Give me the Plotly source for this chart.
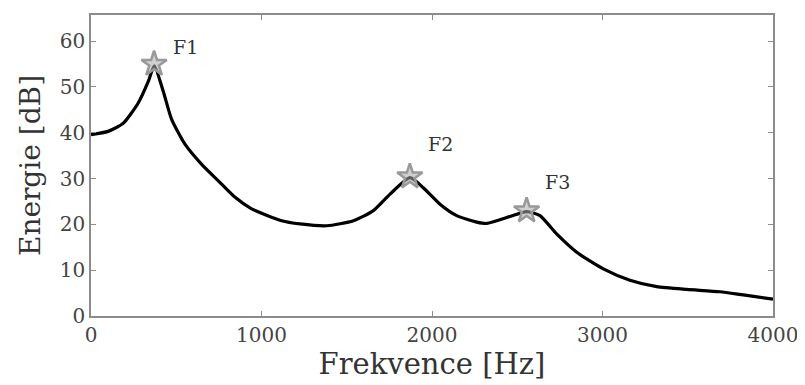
import plotly.graph_objects as go

freq_hz = [0, 100, 190, 277, 336, 371, 424, 473, 551, 649, 747, 845, 942, 1118,
           1226, 1382, 1539, 1656, 1754, 1871, 1949, 2047, 2145, 2262, 2321, 2457,
           2555, 2633, 2731, 2849, 3005, 3161, 3318, 3494, 3689, 3826, 4000]
energy_db = [39.6, 40.3, 42.1, 46.5, 51.2, 54.6, 49.0, 42.9, 37.5, 33.1, 29.5, 25.9,
             23.4, 20.8, 20.1, 19.7, 20.8, 23.0, 26.6, 30.2, 28.0, 24.4, 21.9, 20.5,
             20.2, 21.7, 22.8, 21.9, 17.9, 13.9, 10.3, 7.8, 6.4, 5.8, 5.3, 4.6, 3.7]

formant_names = ["F1", "F2", "F3"]
formant_hz = [370, 1870, 2555]
formant_db = [55.0, 30.4, 23.0]
label_hz = [470, 1965, 2650]
label_db = [58.8, 37.5, 29.3]

FONT = "DejaVu Serif"
AXC = "#8c8c8c"

fig = go.Figure()
fig.add_trace(go.Scatter(x=freq_hz, y=energy_db, mode="lines",
                         line=dict(color="black", width=3.2, shape="spline", smoothing=0.6),
                         hoverinfo="skip", showlegend=False))
fig.add_trace(go.Scatter(x=formant_hz, y=formant_db, mode="markers",
                         marker=dict(symbol="star", size=19, color="rgba(170,170,170,0.55)",
                                     line=dict(width=2.5, color="#999999")),
                         showlegend=False))
for n, lx, ly in zip(formant_names, label_hz, label_db):
    fig.add_annotation(x=lx, y=ly, text=n, showarrow=False, xanchor="left",
                       yanchor="middle", font=dict(family=FONT, size=19, color="#333"))

axis_common = dict(showline=True, linecolor=AXC, linewidth=1.5, mirror="ticks",
                   ticks="inside", ticklen=5, tickcolor=AXC, showgrid=False,
                   zeroline=False, tickfont=dict(family=FONT, size=20, color="#444"))
fig.update_xaxes(range=[0, 4000], tickvals=[0, 1000, 2000, 3000, 4000],
                 title=dict(text="Frekvence [Hz]", font=dict(family=FONT, size=29, color="#333"),
                            standoff=0), **axis_common)
fig.update_yaxes(range=[0, 65.7], tickvals=[0, 10, 20, 30, 40, 50, 60],
                 title=dict(text="Energie [dB]", font=dict(family=FONT, size=28, color="#333"),
                            standoff=11), **axis_common)
fig.update_layout(width=797, height=377, margin=dict(l=83, r=32, t=5, b=69),
                  plot_bgcolor="white", paper_bgcolor="white")
fig.write_html("out.html")
